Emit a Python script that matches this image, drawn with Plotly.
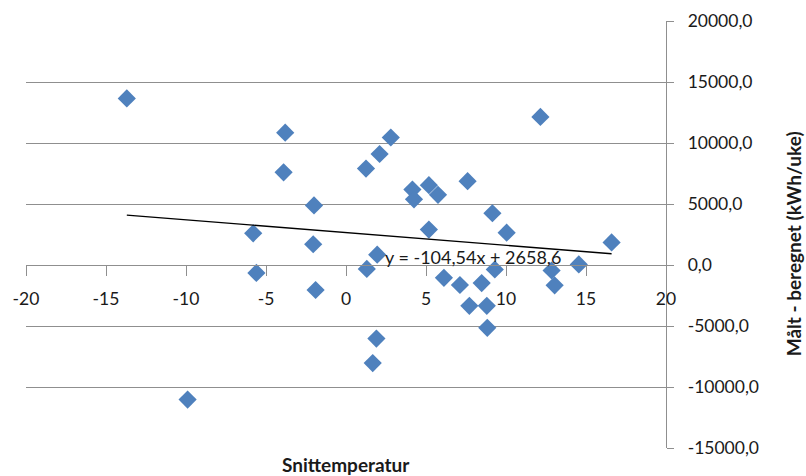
import plotly.graph_objects as go

# Data
temp = [-13.7, -3.8, -3.9, -2.0, -2.05, -1.9, -5.8, -5.6, -9.9,
        1.25, 2.1, 2.8, 1.3, 1.95, 1.9, 1.67,
        4.15, 4.25, 5.18, 5.75, 5.18, 7.6, 9.15, 10.04, 12.15, 16.6,
        9.3, 6.12, 7.12, 8.48, 7.71, 8.8, 8.83, 12.85, 13.04, 14.55]
diff = [13650, 10850, 7600, 4880, 1700, -2050, 2600, -650, -11030,
        7900, 9100, 10450, -320, 850, -6030, -8040,
        6180, 5380, 6540, 5750, 2900, 6870, 4240, 2650, 12140, 1850,
        -370, -1050, -1640, -1480, -3350, -3350, -5150, -450, -1670, 50]

# Linear trendline from the chart's equation
slope = -104.54
intercept = 2658.6
equation_text = "y = -104,54x + 2658,6"

x_tick_vals = [-20, -15, -10, -5, 0, 5, 10, 15, 20]
x_tick_labels = ["-20", "-15", "-10", "-5", "0", "5", "10", "15", "20"]
y_tick_vals = [-15000, -10000, -5000, 0, 5000, 10000, 15000, 20000]
y_tick_labels = ["-15000,0", "-10000,0", "-5000,0", "0,0", "5000,0",
                 "10000,0", "15000,0", "20000,0"]

x_title = "Snittemperatur"
y_title = "Målt - beregnet (kWh/uke)"

FONT = "Lato"
TXT = "#1a1a1a"
GRID = "#8f8f8f"

trend_x = [min(temp), max(temp)]
trend_y = [slope * v + intercept for v in trend_x]

fig = go.Figure()
fig.add_trace(go.Scatter(
    x=temp, y=diff, mode="markers",
    marker=dict(symbol="diamond", size=14, color="#4F81BD",
                line=dict(width=0)),
    showlegend=False, hoverinfo="x+y"))
fig.add_trace(go.Scatter(
    x=trend_x, y=trend_y, mode="lines",
    line=dict(color="#000000", width=1.3),
    showlegend=False, hoverinfo="skip"))

fig.update_layout(
    width=806, height=476,
    margin=dict(l=26, r=140, t=21, b=28, pad=0),
    paper_bgcolor="white", plot_bgcolor="white",
    font=dict(family=FONT, size=18, color=TXT),
    xaxis=dict(
        range=[-20, 20], tickvals=x_tick_vals, ticktext=x_tick_labels,
        showgrid=False, zeroline=False, automargin=False,
        showline=True, linecolor=GRID, linewidth=1.3,
        ticks="outside", ticklen=10, tickwidth=1.3, tickcolor=GRID,
        anchor="free", position=15000 / 35000, side="bottom",
        ticklabelstandoff=8,
        tickfont=dict(family=FONT, size=17.5, color=TXT),
    ),
    yaxis=dict(
        range=[-15000, 20000], tickvals=y_tick_vals, ticktext=y_tick_labels,
        showgrid=True, gridcolor=GRID, gridwidth=1.3, zeroline=False,
        automargin=False,
        showline=True, linecolor=GRID, linewidth=1.3,
        ticks="outside", ticklen=7, tickwidth=1.3, tickcolor=GRID,
        side="right", ticklabelstandoff=10,
        tickfont=dict(family=FONT, size=17.5, color=TXT),
    ),
    annotations=[
        dict(text=equation_text, x=2.31, y=680, xref="x", yref="y",
             xanchor="left", yanchor="middle", showarrow=False,
             font=dict(family=FONT, size=18, color=TXT)),
        dict(text="<b>" + x_title + "</b>", x=0.5, y=-0.038,
             xref="paper", yref="paper", xanchor="center", yanchor="middle",
             showarrow=False, font=dict(family=FONT, size=19, color=TXT)),
        dict(text="<b>" + y_title + "</b>", x=(793 - 26) / 640, y=0.477,
             xref="paper", yref="paper", xanchor="center", yanchor="middle",
             textangle=-90, showarrow=False,
             font=dict(family=FONT, size=19, color=TXT)),
    ],
)

fig.write_html(
    "out.html",
    config={"displayModeBar": False},
    post_script="document.body.style.margin='0';document.body.style.overflow='hidden';",
)
